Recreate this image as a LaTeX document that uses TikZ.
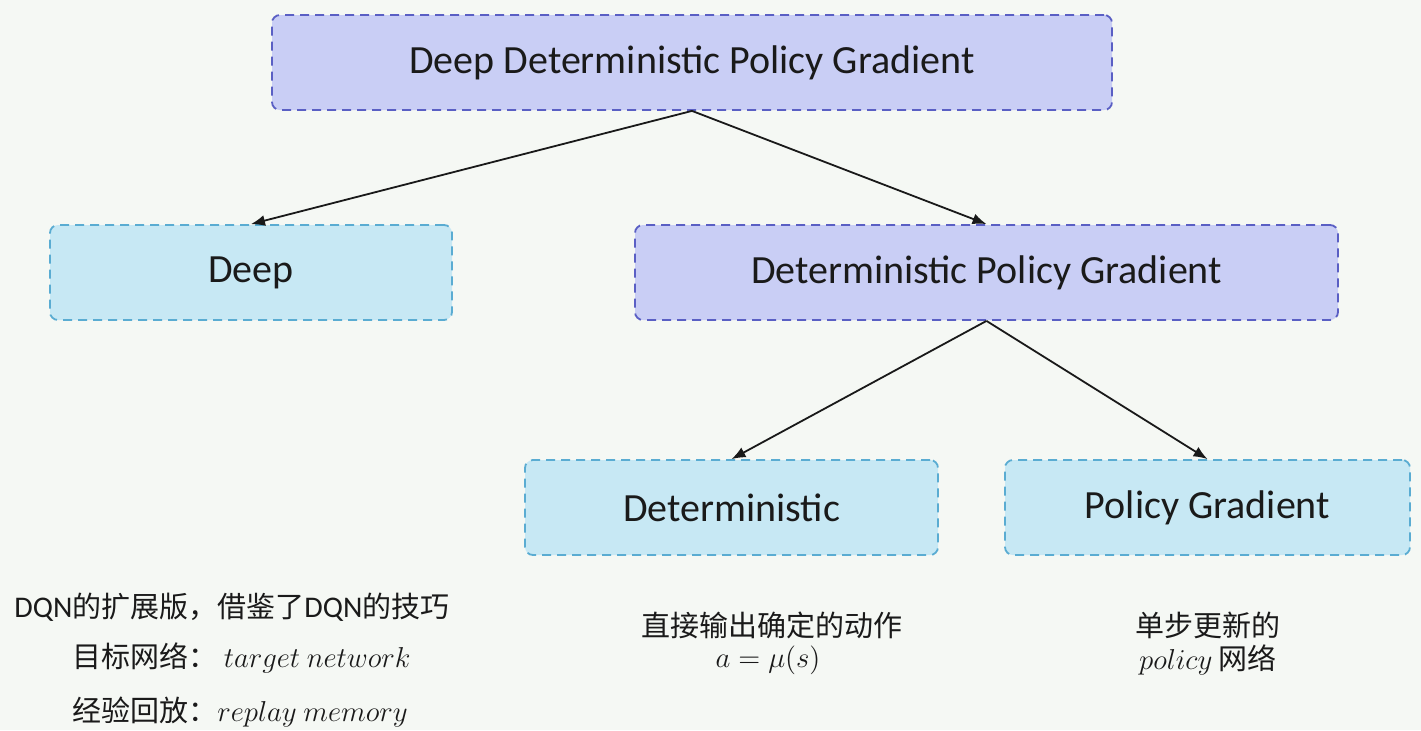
\documentclass[tikz,border=0pt]{standalone}
\usepackage{fontspec}
\setmainfont{Carlito}
\newfontfamily\cjk{Noto Sans CJK SC}
\newcommand{\lat}[1]{{\rmfamily\fontsize{15}{15}\selectfont #1}}
\newcommand{\mth}[1]{{\fontsize{15.2}{15}\selectfont $#1$}}
\usetikzlibrary{arrows.meta}
\definecolor{bgc}{HTML}{F5F8F4}
\definecolor{lavfill}{HTML}{C9CEF5}
\definecolor{lavdraw}{HTML}{5A5FC4}
\definecolor{bluefill}{HTML}{C7E8F4}
\definecolor{bluedraw}{HTML}{5AACD2}
\definecolor{txt}{HTML}{1A1A1A}
\begin{document}
\begin{tikzpicture}[x=0.5pt,y=-0.5pt,
  boxbase/.style={rounded corners=4pt, dash pattern=on 4.5pt off 3pt, line width=0.9pt, inner sep=0pt, font=\fontsize{20}{22}\selectfont, text=txt},
  lavbox/.style={boxbase, fill=lavfill, draw=lavdraw},
  bluebox/.style={boxbase, fill=bluefill, draw=bluedraw},
  conn/.style={line width=0.9pt, draw=black!90, -{Latex[length=7pt,width=5.5pt]}},
  note/.style={font=\cjk\fontsize{14.5}{16}\selectfont, text=txt, inner sep=0pt}
]
\fill[bgc] (0,0) rectangle (1421,730);
\useasboundingbox (0,0) rectangle (1421,730);

\node[lavbox, minimum width=420pt, minimum height=47.5pt] (top) at (692,62.5) {Deep Deterministic Policy Gradient};
\node[bluebox, minimum width=201pt, minimum height=47.5pt] (deep) at (251,272.5) {Deep};
\node[lavbox, minimum width=351.5pt, minimum height=47.5pt] (dpg) at (986.5,272.5) {Deterministic Policy Gradient};
\node[bluebox, minimum width=206.5pt, minimum height=47.5pt] (det) at (731.5,507.5) {Deterministic};
\node[bluebox, minimum width=202.5pt, minimum height=47.5pt] (pg) at (1207.5,507.5) {Policy Gradient};

\draw[conn] (top.south) -- (deep.north);
\draw[conn] (top.south) -- (dpg.north);
\draw[conn] (dpg.south) -- (det.north);
\draw[conn] (dpg.south) -- (pg.north);

\node[note] (n1) at (232,607) {\lat{DQN}的扩展版，借鉴了\lat{DQN}的技巧};
\node[note, anchor=west] (n2) at (72,658) {目标网络： \mth{target\ network}};
\node[note, anchor=west] (n3) at (72,712) {经验回放：\mth{replay\ memory}};

\node[note] (m1) at (772,625) {直接输出确定的动作};
\node[note] (m2) at (768,660) {\mth{a=\mu(s)}};

\node[note] (r1) at (1208,625) {单步更新的};
\node[note] (r2) at (1208,660) {\mth{policy} 网络};
\end{tikzpicture}
\end{document}
